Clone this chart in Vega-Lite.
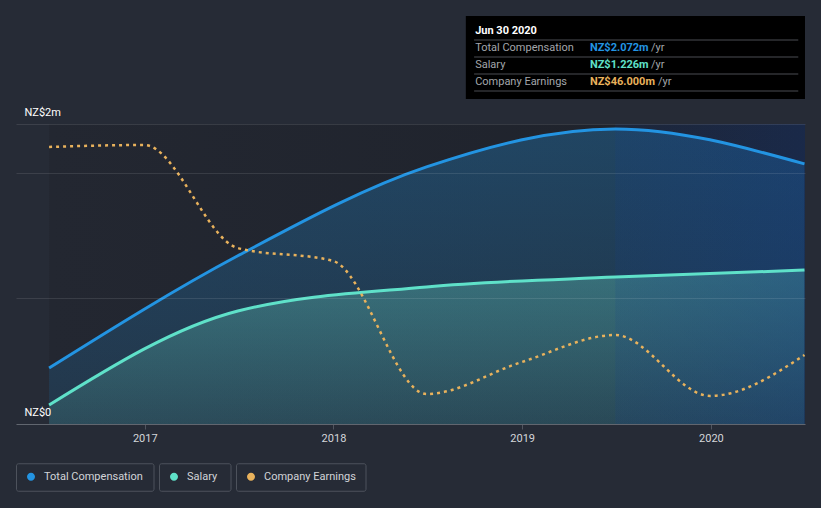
{
  "$schema": "https://vega.github.io/schema/vega-lite/v6.json",
  "width": 789,
  "height": 300,
  "autosize": {"type": "none"},
  "padding": {"left": 16, "top": 124, "right": 16, "bottom": 84},
  "background": "#262b36",
  "config": {"view": {"stroke": null}, "font": "Roboto"},
  "datasets": {
    "comp": [
      {"date": "2016-06-30", "series": "Total Compensation", "value": 0.446},
      {"date": "2017-06-30", "series": "Total Compensation", "value": 1.34},
      {"date": "2018-06-30", "series": "Total Compensation", "value": 2.048},
      {"date": "2019-06-30", "series": "Total Compensation", "value": 2.351},
      {"date": "2020-06-30", "series": "Total Compensation", "value": 2.072},
      {"date": "2016-06-30", "series": "Salary", "value": 0.151},
      {"date": "2017-06-30", "series": "Salary", "value": 0.9},
      {"date": "2018-06-30", "series": "Salary", "value": 1.092},
      {"date": "2019-06-30", "series": "Salary", "value": 1.171},
      {"date": "2020-06-30", "series": "Salary", "value": 1.226}
    ],
    "earn": [
      {"date": "2016-06-30", "series": "Company Earnings", "value": 184.7},
      {"date": "2016-12-31", "series": "Company Earnings", "value": 186},
      {"date": "2017-06-30", "series": "Company Earnings", "value": 117.3},
      {"date": "2017-12-31", "series": "Company Earnings", "value": 108.7},
      {"date": "2018-06-30", "series": "Company Earnings", "value": 20},
      {"date": "2018-12-31", "series": "Company Earnings", "value": 41.3},
      {"date": "2019-06-30", "series": "Company Earnings", "value": 59.3},
      {"date": "2019-12-31", "series": "Company Earnings", "value": 18.7},
      {"date": "2020-06-30", "series": "Company Earnings", "value": 46}
    ],
    "tip": [
      {"row": 0, "label": "Jun 30 2020", "amount": "", "series": ""},
      {"row": 1, "label": "Total Compensation", "amount": "NZ$2.072m", "series": "Total Compensation"},
      {"row": 2, "label": "Salary", "amount": "NZ$1.226m", "series": "Salary"},
      {"row": 3, "label": "Company Earnings", "amount": "NZ$46.000m", "series": "Company Earnings"}
    ],
    "one": [{}]
  },
  "resolve": {"scale": {"y": "independent"}},
  "layer": [
    {
      "data": {"name": "one"},
      "mark": {"type": "rect", "fill": {"gradient": "linear", "x1": 0, "y1": 0, "x2": 1, "y2": 0, "stops": [{"offset": 0, "color": "#232731"}, {"offset": 1, "color": "#1e222b"}]}},
      "encoding": {
        "x": {"datum": {"year": 2016, "month": 6, "date": 30}, "type": "temporal", "title": null},
        "x2": {"datum": {"year": 2020, "month": 7, "date": 1}},
        "y": {"datum": 0, "type": "quantitative", "scale": {"domain": [0, 2.39]}, "axis": null},
        "y2": {"datum": 2.39}
      }
    },
    {
      "data": {"name": "comp"},
      "transform": [{"filter": "datum.series == 'Total Compensation'"}],
      "mark": {"type": "area", "interpolate": "monotone", "fill": {"gradient": "linear", "x1": 0, "y1": 0, "x2": 0, "y2": 1, "stops": [{"offset": 0, "color": "rgba(35,148,224,0.30)"}, {"offset": 1, "color": "rgba(35,148,224,0.14)"}]}},
      "encoding": {
        "x": {"field": "date", "type": "temporal", "title": null,
          "scale": {"domain": [{"year": 2016, "month": 4, "date": 27}, {"year": 2020, "month": 7, "date": 1}]},
          "axis": {"values": [{"year": 2017, "month": 1, "date": 1}, {"year": 2018, "month": 1, "date": 1}, {"year": 2019, "month": 1, "date": 1}, {"year": 2020, "month": 1, "date": 1}],
            "format": "%Y", "grid": false, "domainColor": "#50555f", "tickColor": "#50555f", "tickSize": 5,
            "labelColor": "#d4d6da", "labelFontSize": 11, "labelPadding": 3, "labelFont": "Roboto"}},
        "y": {"field": "value", "type": "quantitative", "title": null, "scale": {"domain": [0, 2.39]},
          "axis": {"values": [0, 1, 2, 2.39], "grid": true, "gridColor": "#ffffff", "gridOpacity": 0.1, "domain": false, "ticks": false, "tickSize": 0,
            "labelExpr": "datum.value == 0 ? 'NZ$0' : (datum.value > 2.3 ? 'NZ$2m' : '')",
            "labelAlign": "left", "labelPadding": -8, "labelBaseline": "alphabetic", "labelOffset": -9, "labelFlush": false,
            "labelColor": "#ffffff", "labelFontSize": 11, "labelFont": "Roboto", "zindex": 1}}
      }
    },
    {
      "data": {"name": "comp"},
      "transform": [{"filter": "datum.series == 'Salary'"}],
      "mark": {"type": "area", "interpolate": "monotone", "fill": {"gradient": "linear", "x1": 0, "y1": 0, "x2": 0, "y2": 1, "stops": [{"offset": 0, "color": "rgba(100,205,190,0.36)"}, {"offset": 1, "color": "rgba(100,205,190,0.14)"}]}},
      "encoding": {
        "x": {"field": "date", "type": "temporal", "title": null},
        "y": {"field": "value", "type": "quantitative", "scale": {"domain": [0, 2.39]}, "axis": null}
      }
    },
    {
      "data": {"name": "one"},
      "mark": {"type": "rect", "fill": {"gradient": "linear", "x1": 0, "y1": 0, "x2": 1, "y2": 0, "stops": [{"offset": 0, "color": "rgba(15,60,150,0.12)"}, {"offset": 1, "color": "rgba(15,60,150,0.28)"}]}},
      "encoding": {
        "x": {"datum": {"year": 2019, "month": 6, "date": 30}, "type": "temporal", "title": null},
        "x2": {"datum": {"year": 2020, "month": 7, "date": 1}},
        "y": {"datum": 0, "type": "quantitative", "scale": {"domain": [0, 2.39]}, "axis": null},
        "y2": {"datum": 2.39}
      }
    },
    {
      "data": {"name": "comp"},
      "mark": {"type": "line", "interpolate": "monotone", "strokeWidth": 3},
      "encoding": {
        "x": {"field": "date", "type": "temporal", "title": null},
        "y": {"field": "value", "type": "quantitative", "scale": {"domain": [0, 2.39]}, "axis": null},
        "color": {"field": "series", "type": "nominal",
          "scale": {"domain": ["Total Compensation", "Salary", "Company Earnings"], "range": ["#2394e2", "#5fe1c9", "#e9b25c"]},
          "legend": {"orient": "none", "legendX": 0, "legendY": 339, "direction": "horizontal", "title": null,
            "symbolType": "circle", "symbolSize": 64, "labelColor": "#d2d4d8", "labelFontSize": 11, "labelFont": "Roboto",
            "columnPadding": 4, "labelOffset": 5, "padding": 0,
            "encode": {
              "entries": {"update": {
                "stroke": {"value": "#4d525c"}, "strokeWidth": {"value": 1}, "cornerRadius": {"value": 2}, "fill": {"value": "transparent"}}},
              "symbols": {"update": {
                "x": {"value": 15}, "y": {"value": 13.5}, "size": {"value": 64},
                "shape": {"signal": "'M -1 0 A 1 1 0 1 0 1 0 A 1 1 0 1 0 -1 0 Z M -3.75 -3.375 L -3.75 -3.375 M ' + (datum.value == 'Salary' ? '14' : (datum.value == 'Total Compensation' ? '30.5' : '28.5')) + ' 3.375 L ' + (datum.value == 'Salary' ? '14' : (datum.value == 'Total Compensation' ? '30.5' : '28.5')) + ' 3.375'"},
                "fill": {"scale": "color", "field": "value"}, "strokeWidth": {"value": 0}, "opacity": {"value": 1}}},
              "labels": {"update": {"x": {"value": 28}, "y": {"value": 13.5}, "baseline": {"value": "middle"}}}
            }}}
      }
    },
    {
      "data": {"name": "earn"},
      "mark": {"type": "line", "interpolate": "monotone", "strokeWidth": 2.5, "strokeDash": [3, 4]},
      "encoding": {
        "x": {"field": "date", "type": "temporal", "title": null},
        "y": {"field": "value", "type": "quantitative", "scale": {"domain": [0, 200]}, "axis": null},
        "color": {"field": "series", "type": "nominal"}
      }
    },
    {
      "data": {"name": "comp"},
      "transform": [{"filter": "datum.date == '2020-06-30'"}],
      "mark": {"type": "point", "filled": true, "size": 45, "stroke": "#e8eef5", "strokeWidth": 1, "opacity": 1},
      "encoding": {
        "x": {"field": "date", "type": "temporal", "title": null},
        "y": {"field": "value", "type": "quantitative", "scale": {"domain": [0, 2.39]}, "axis": null},
        "fill": {"field": "series", "type": "nominal", "scale": {"domain": ["Total Compensation", "Salary", "Company Earnings"], "range": ["#2394e2", "#5fe1c9", "#d6b088"]}, "legend": null}
      }
    },
    {
      "data": {"name": "earn"},
      "transform": [{"filter": "datum.date == '2020-06-30'"}],
      "mark": {"type": "point", "filled": true, "size": 45, "fill": "#d6b088", "stroke": "#e8eef5", "strokeWidth": 1, "opacity": 1},
      "encoding": {
        "x": {"field": "date", "type": "temporal", "title": null},
        "y": {"field": "value", "type": "quantitative", "scale": {"domain": [0, 200]}, "axis": null}
      }
    },
    {
      "data": {"name": "one"},
      "mark": {"type": "rect", "fill": "#000000"},
      "encoding": {
        "x": {"datum": {"year": 2018, "month": 9, "date": 14}, "type": "temporal", "title": null},
        "x2": {"datum": {"year": 2020, "month": 7, "date": 1}},
        "y": {"datum": 3.25, "type": "quantitative", "scale": {"domain": [0, 2.39]}, "axis": null},
        "y2": {"datum": 2.59}
      }
    },
    {
      "data": {"name": "tip"},
      "mark": {"type": "rule", "stroke": "#4a4d52", "strokeWidth": 1},
      "encoding": {
        "x": {"datum": {"year": 2018, "month": 9, "date": 30}, "type": "temporal", "title": null},
        "x2": {"datum": {"year": 2020, "month": 6, "date": 18}},
        "y": {"field": "row", "type": "ordinal", "scale": {"type": "point", "domain": [0, 1, 2, 3], "range": [-84, -33], "padding": 0}, "axis": null}
      }
    },
    {
      "data": {"name": "tip"},
      "transform": [{"filter": "datum.row == 0"}],
      "mark": {"type": "text", "align": "left", "baseline": "middle", "font": "Roboto", "fontSize": 11, "fontWeight": "bold", "color": "#ffffff"},
      "encoding": {
        "x": {"datum": {"year": 2018, "month": 10, "date": 2}, "type": "temporal", "title": null},
        "y": {"field": "row", "type": "ordinal", "scale": {"type": "point", "domain": [0, 1, 2, 3], "range": [-93, -42], "padding": 0}, "axis": null},
        "text": {"field": "label"}
      }
    },
    {
      "data": {"name": "tip"},
      "transform": [{"filter": "datum.row > 0"}],
      "mark": {"type": "text", "align": "left", "baseline": "middle", "font": "Roboto", "fontSize": 11, "color": "#a3a6ab"},
      "encoding": {
        "x": {"datum": {"year": 2018, "month": 10, "date": 2}, "type": "temporal", "title": null},
        "y": {"field": "row", "type": "ordinal", "scale": {"type": "point", "domain": [0, 1, 2, 3], "range": [-93, -42], "padding": 0}, "axis": null},
        "text": {"field": "label"}
      }
    },
    {
      "data": {"name": "tip"},
      "transform": [{"filter": "datum.row > 0"}],
      "mark": {"type": "text", "align": "left", "baseline": "middle", "font": "Roboto", "fontSize": 11, "fontWeight": "bold"},
      "encoding": {
        "x": {"datum": {"year": 2019, "month": 5, "date": 12}, "type": "temporal", "title": null},
        "y": {"field": "row", "type": "ordinal", "scale": {"type": "point", "domain": [0, 1, 2, 3], "range": [-93, -42], "padding": 0}, "axis": null},
        "text": {"field": "amount"},
        "color": {"field": "series", "type": "nominal"}
      }
    },
    {
      "data": {"name": "tip"},
      "transform": [{"filter": "datum.row == 1 || datum.row == 2"}],
      "mark": {"type": "text", "align": "left", "baseline": "middle", "font": "Roboto", "fontSize": 11, "color": "#a3a6ab", "dx": 61},
      "encoding": {
        "x": {"datum": {"year": 2019, "month": 5, "date": 12}, "type": "temporal", "title": null},
        "y": {"field": "row", "type": "ordinal", "scale": {"type": "point", "domain": [0, 1, 2, 3], "range": [-93, -42], "padding": 0}, "axis": null},
        "text": {"value": "/yr"}
      }
    },
    {
      "data": {"name": "tip"},
      "transform": [{"filter": "datum.row == 3"}],
      "mark": {"type": "text", "align": "left", "baseline": "middle", "font": "Roboto", "fontSize": 11, "color": "#a3a6ab", "dx": 68},
      "encoding": {
        "x": {"datum": {"year": 2019, "month": 5, "date": 12}, "type": "temporal", "title": null},
        "y": {"field": "row", "type": "ordinal", "scale": {"type": "point", "domain": [0, 1, 2, 3], "range": [-93, -42], "padding": 0}, "axis": null},
        "text": {"value": "/yr"}
      }
    }
  ]
}
